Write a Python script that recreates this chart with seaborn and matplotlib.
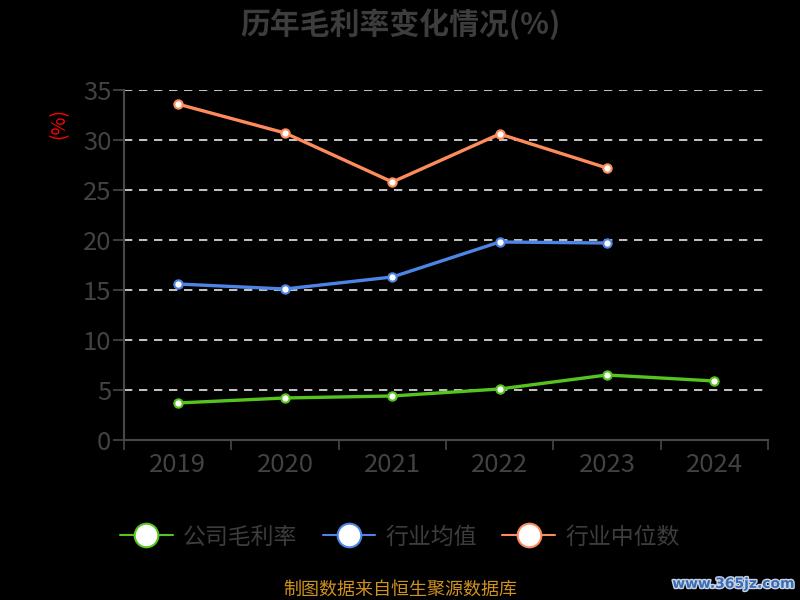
import matplotlib
matplotlib.use("Agg")
import matplotlib.pyplot as plt
import matplotlib.patheffects as pe
from matplotlib.lines import Line2D
import numpy as np
import pandas as pd
import seaborn as sns

years = ["2019", "2020", "2021", "2022", "2023", "2024"]
company = [3.7, 4.2, 4.4, 5.1, 6.5, 5.9]
industry_avg = [15.6, 15.1, 16.3, 19.8, 19.7, np.nan]
industry_median = [33.6, 30.7, 25.8, 30.6, 27.2, np.nan]

series_names = ["公司毛利率", "行业均值", "行业中位数"]
colors = ["#56c41e", "#4d84e6", "#fd8b5b"]

sns.set_theme(style="dark")
plt.rcParams["font.family"] = ["Noto Sans CJK SC", "DejaVu Sans"]
plt.rcParams["axes.unicode_minus"] = False

df = pd.DataFrame({
    "x": list(range(len(years))) * 3,
    "value": company + industry_avg + industry_median,
    "series": [n for n in series_names for _ in years],
})

fig = plt.figure(figsize=(8, 6), dpi=100, facecolor="black")
ax = fig.add_axes([0.155, 0.2667, 0.805, 0.5833])
ax.set_facecolor("black")

sns.lineplot(data=df, x="x", y="value", hue="series", palette=colors,
             hue_order=series_names, marker="o", markersize=6,
             markerfacecolor="white", markeredgewidth=1.5,
             linewidth=2.4, legend=False, ax=ax, zorder=3)
for line, c in zip(ax.lines, colors):
    line.set_markeredgecolor(c)

ax.set_ylim(0, 35)
ax.set_xlim(-0.5, len(years) - 0.5)
ax.set_yticks(range(0, 36, 5))
ax.set_xticks(range(len(years)))
ax.set_xticklabels(years)
ax.set_xticks(np.arange(-0.5, len(years), 1.0), minor=True)
ax.tick_params(axis="x", which="major", bottom=False, pad=3,
               labelsize=18.5, labelcolor="#424242")
ax.tick_params(axis="x", which="minor", bottom=True, length=7, width=1.2,
               color="#484848", direction="out")
ax.tick_params(axis="y", left=True, length=8, width=1.2, color="#484848",
               direction="out", labelsize=18.5, labelcolor="#424242", pad=1)
ax.set_xlabel("")
ax.set_ylabel("(%)", color="red", fontsize=14)
ax.yaxis.set_label_coords(-0.085, 0.905)

for v in range(5, 36, 5):
    ax.axhline(v, color="#e6e6e6", linestyle=(0, (5, 4)), linewidth=1.2,
               zorder=1)
ax.grid(False)

for s in ["top", "right"]:
    ax.spines[s].set_visible(False)
for s in ["left", "bottom"]:
    ax.spines[s].set_color("#484848")
    ax.spines[s].set_linewidth(1.5)

fig.text(0.5, 0.96, "历年毛利率变化情况(%)", ha="center", va="center",
         fontsize=21.5, fontweight="bold", color="#3d3d3d")

handles = [Line2D([0], [0], color=c, linewidth=1.5, marker="o",
                  markersize=17, markerfacecolor="white",
                  markeredgecolor=c, markeredgewidth=1.5)
           for c in colors]
leg = fig.legend(handles, series_names, loc="center",
                 bbox_to_anchor=(0.5, 0.105), ncol=3, frameon=False,
                 fontsize=16.5, handlelength=2.3, handletextpad=0.45,
                 columnspacing=1.1)
for t in leg.get_texts():
    t.set_color("#3d3d3d")

fig.text(0.5, 0.017, "制图数据来自恒生聚源数据库", ha="center", va="center",
         fontsize=13, color="#d0921e")
fig.text(0.993, 0.027, "www.365jz.com", ha="right", va="center",
         fontsize=10, fontweight="bold", color="#3a6db5",
         family=["DejaVu Sans"],
         path_effects=[pe.withStroke(linewidth=2, foreground="#c8d4e6")])

fig.savefig("out.png", dpi=100, facecolor="black")
